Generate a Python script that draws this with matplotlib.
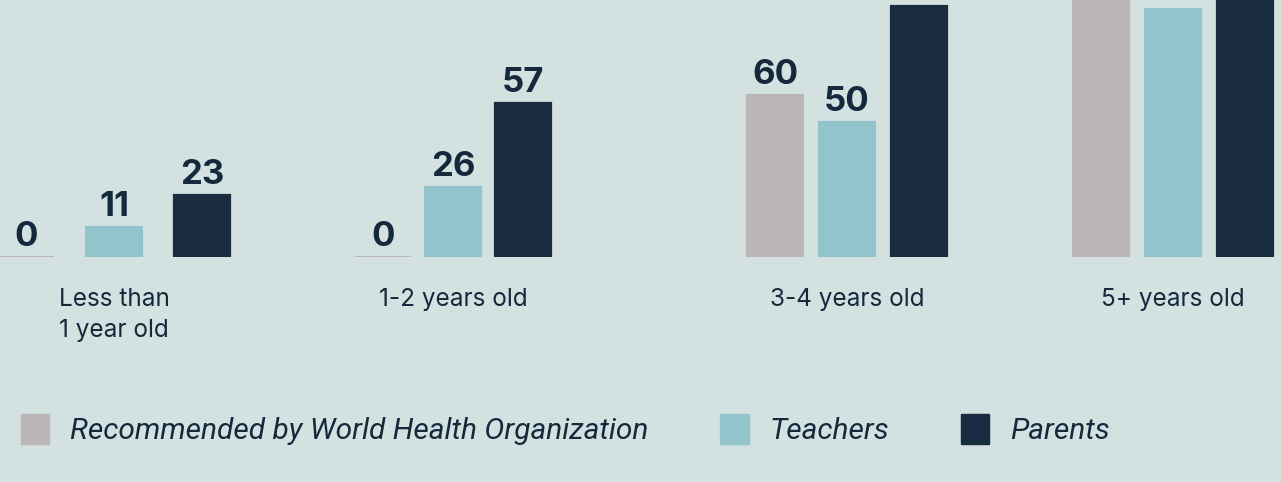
import matplotlib
matplotlib.use("Agg")
import matplotlib.pyplot as plt
from matplotlib.patches import Patch

# ---- data ----
categories = ["Less than\n1 year old", "1-2 years old", "3-4 years old", "5+ years old"]
series_names = ["Recommended by World Health Organization", "Teachers", "Parents"]
who_values = [0, 0, 60, 100]
teacher_values = [11, 26, 50, 92]
parent_values = [23, 57, 93, 100]

# ---- style / layout ----
colors = ["#bdb6b6", "#94c4cb", "#1a2d40"]
bg = "#d3e2e0"
text_color = "#14293c"
group_centers = [114, 453, 847, 1173]
group_spacing = [88, 70, 72, 72]
bar_width = 56

W, H = 1281, 482
fig = plt.figure(figsize=(W / 100, H / 100), dpi=100, facecolor=bg)
base_px = 257
px_per_unit = 2.7
ax = fig.add_axes([0, (H - base_px) / H, 1, base_px / H])
ax.set_facecolor(bg)
ax.set_xlim(0, W)
ax.set_ylim(0, base_px / px_per_unit)
ax.axis("off")

label_px = 36  # room a value label needs above its bar
all_series = [who_values, teacher_values, parent_values]
handles = []
for si, vals in enumerate(all_series):
    xs = [c + (si - 1) * s for c, s in zip(group_centers, group_spacing)]
    ax.bar(xs, vals, width=bar_width, color=colors[si],
           edgecolor=colors[si], linewidth=1.6, clip_on=True)
    handles.append(Patch(facecolor=colors[si], edgecolor=colors[si], label=series_names[si]))
    for x, v in zip(xs, vals):
        # labels of bars running past the top edge fall outside the frame
        if v * px_per_unit + label_px > base_px:
            continue
        ax.annotate(str(v), xy=(x, v), xytext=(0, 8), textcoords="offset points",
                    ha="center", va="baseline", fontsize=25, fontweight="bold",
                    family="Inter", color=text_color)

for c, lab in zip(group_centers, categories):
    ax.annotate(lab, xy=(c, 0), xytext=(0, -22), textcoords="offset points",
                ha="center", va="top", multialignment="left", fontsize=17.5,
                family="Inter", color=text_color, linespacing=1.45,
                annotation_clip=False)

leg = fig.legend(handles=handles, loc="lower left", bbox_to_anchor=(-6 / W, 10 / H),
                 ncol=3, frameon=False, handlelength=0.95, handleheight=1.2,
                 handletextpad=0.7, columnspacing=2.4,
                 prop={"family": "Roboto", "style": "italic", "weight": "normal", "size": 21.5})
for t in leg.get_texts():
    t.set_color(text_color)

fig.savefig("out.png", dpi=100, facecolor=bg)
